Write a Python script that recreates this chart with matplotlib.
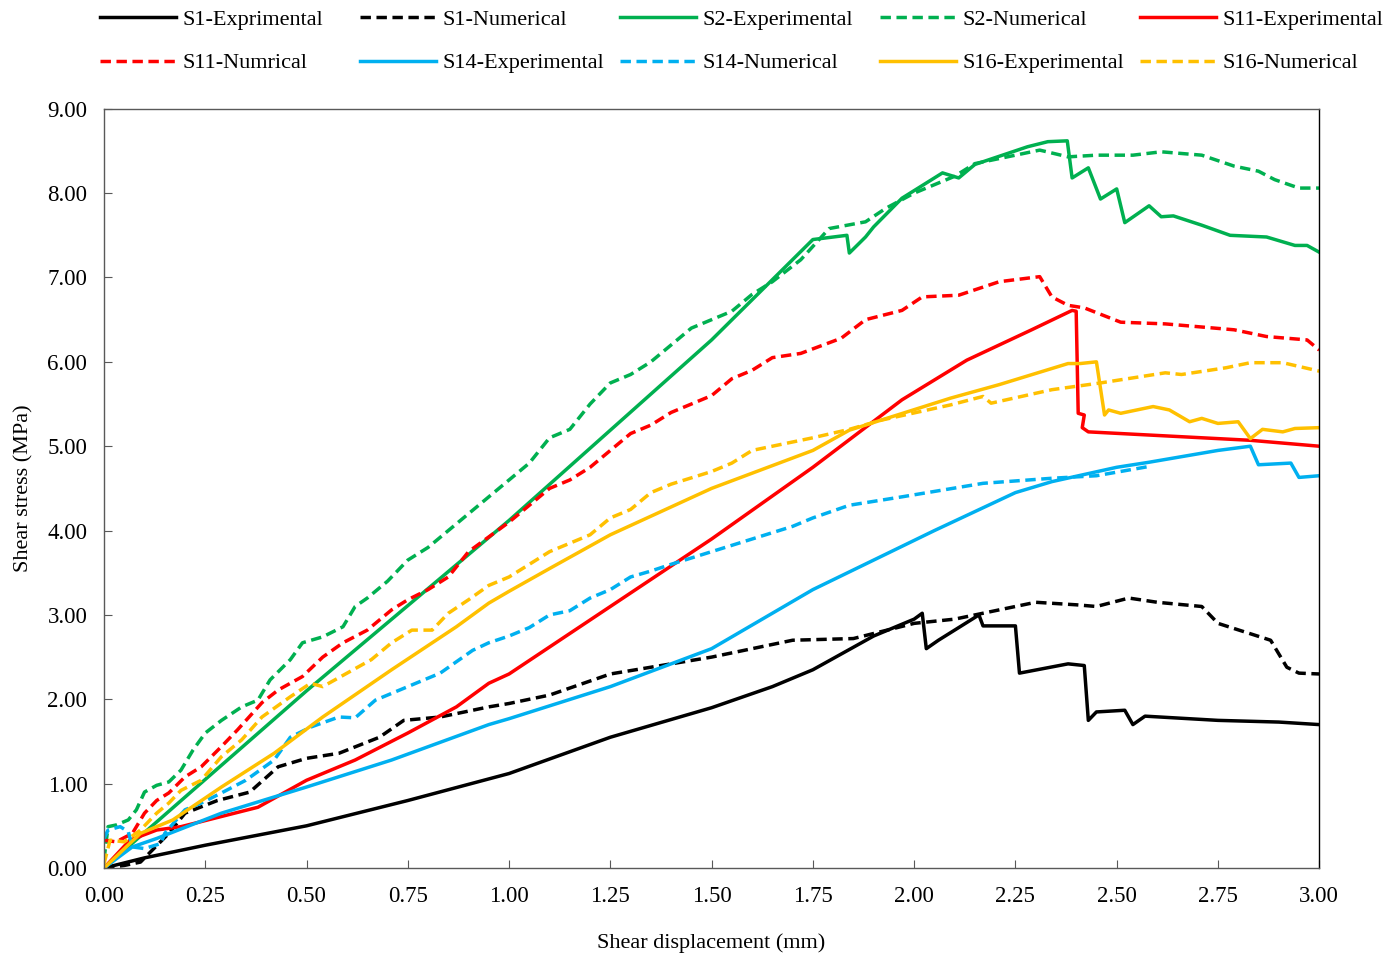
import numpy as np
import matplotlib.pyplot as plt

# S1
s1e_x = [0, 0.1, 0.25, 0.5, 0.75, 1.0, 1.25, 1.5, 1.65, 1.75, 1.9, 2.0, 2.02, 2.03, 2.06, 2.16, 2.17, 2.25, 2.26, 2.38, 2.42, 2.43, 2.45, 2.52, 2.54, 2.57, 2.75, 2.9, 3.0]
s1e_y = [0, 0.12, 0.27, 0.5, 0.8, 1.12, 1.55, 1.9, 2.15, 2.35, 2.75, 2.95, 3.02, 2.6, 2.7, 3.0, 2.87, 2.87, 2.31, 2.42, 2.4, 1.75, 1.85, 1.87, 1.7, 1.8, 1.75, 1.73, 1.7]
s1n_x = [0, 0.05, 0.09, 0.16, 0.2, 0.28, 0.36, 0.43, 0.5, 0.58, 0.68, 0.74, 0.83, 0.95, 1.0, 1.1, 1.25, 1.4, 1.5, 1.6, 1.7, 1.85, 2.0, 2.1, 2.2, 2.3, 2.4, 2.45, 2.53, 2.6, 2.71, 2.75, 2.88, 2.92, 2.95, 3.0]
s1n_y = [0, 0.03, 0.07, 0.41, 0.65, 0.8, 0.9, 1.2, 1.3, 1.36, 1.55, 1.75, 1.79, 1.91, 1.95, 2.05, 2.3, 2.42, 2.5, 2.6, 2.7, 2.72, 2.9, 2.95, 3.05, 3.15, 3.12, 3.1, 3.2, 3.15, 3.1, 2.9, 2.7, 2.38, 2.31, 2.3]
# S2
s2e_x = [0, 0.25, 0.5, 1.0, 1.5, 1.75, 1.834, 1.84, 1.88, 1.9, 1.97, 2.07, 2.11, 2.15, 2.28, 2.33, 2.378, 2.39, 2.43, 2.46, 2.5, 2.52, 2.58, 2.61, 2.64, 2.71, 2.78, 2.87, 2.94, 2.97, 3.0]
s2e_y = [0, 1.05, 2.1, 4.12, 6.26, 7.45, 7.5, 7.29, 7.48, 7.6, 7.94, 8.24, 8.18, 8.34, 8.55, 8.61, 8.62, 8.18, 8.3, 7.93, 8.05, 7.65, 7.85, 7.72, 7.73, 7.62, 7.5, 7.48, 7.38, 7.38, 7.3]
s2n_x = [0, 0.01, 0.03, 0.06, 0.08, 0.1, 0.13, 0.16, 0.19, 0.22, 0.25, 0.29, 0.34, 0.38, 0.41, 0.46, 0.49, 0.54, 0.59, 0.62, 0.65, 0.7, 0.75, 0.8, 0.85, 0.9, 0.95, 1.0, 1.05, 1.1, 1.15, 1.2, 1.25, 1.3, 1.35, 1.4, 1.45, 1.5, 1.55, 1.6, 1.65, 1.72, 1.79, 1.88, 1.93, 2.0, 2.05, 2.1, 2.15, 2.2, 2.25, 2.31, 2.38, 2.45, 2.54, 2.61, 2.71, 2.79, 2.85, 2.89, 2.95, 3.0]
s2n_y = [0.1, 0.49, 0.51, 0.57, 0.69, 0.9, 0.98, 1.02, 1.16, 1.4, 1.6, 1.75, 1.91, 1.99, 2.23, 2.47, 2.67, 2.74, 2.86, 3.1, 3.2, 3.4, 3.65, 3.8, 4.0, 4.2, 4.4, 4.6, 4.8, 5.1, 5.2, 5.5, 5.75, 5.85, 6.0, 6.2, 6.4, 6.5, 6.6, 6.8, 6.95, 7.21, 7.58, 7.66, 7.82, 8.0, 8.1, 8.2, 8.35, 8.4, 8.45, 8.51, 8.43, 8.45, 8.45, 8.49, 8.45, 8.32, 8.26, 8.16, 8.06, 8.06]
# S11
s11e_x = [0, 0.064, 0.13, 0.19, 0.24, 0.38, 0.5, 0.62, 0.75, 0.87, 0.95, 1.0, 1.25, 1.5, 1.75, 1.97, 2.13, 2.29, 2.39, 2.40, 2.405, 2.42, 2.415, 2.43, 2.83, 3.0]
s11e_y = [0, 0.33, 0.45, 0.49, 0.55, 0.72, 1.04, 1.28, 1.6, 1.91, 2.19, 2.3, 3.1, 3.9, 4.75, 5.55, 6.02, 6.38, 6.61, 6.6, 5.39, 5.37, 5.22, 5.17, 5.07, 5.0]
s11n_x = [0, 0.03, 0.07, 0.1, 0.13, 0.16, 0.2, 0.24, 0.29, 0.33, 0.39, 0.43, 0.49, 0.54, 0.59, 0.65, 0.71, 0.75, 0.8, 0.85, 0.9, 1.0, 1.05, 1.1, 1.15, 1.2, 1.25, 1.3, 1.35, 1.4, 1.45, 1.5, 1.55, 1.6, 1.65, 1.72, 1.82, 1.88, 1.97, 2.02, 2.11, 2.21, 2.31, 2.34, 2.38, 2.42, 2.51, 2.62, 2.79, 2.87, 2.97, 3.0]
s11n_y = [0.33, 0.31, 0.41, 0.65, 0.8, 0.89, 1.08, 1.2, 1.44, 1.64, 1.96, 2.11, 2.27, 2.5, 2.67, 2.82, 3.06, 3.18, 3.3, 3.45, 3.75, 4.1, 4.3, 4.5, 4.6, 4.75, 4.95, 5.15, 5.25, 5.4, 5.5, 5.6, 5.8, 5.9, 6.05, 6.1, 6.28, 6.5, 6.61, 6.77, 6.79, 6.95, 7.01, 6.77, 6.67, 6.64, 6.47, 6.45, 6.38, 6.3, 6.26, 6.14]
# S14
s14e_x = [0, 0.07, 0.13, 0.29, 0.5, 0.71, 0.95, 1.0, 1.25, 1.5, 1.75, 2.05, 2.25, 2.34, 2.5, 2.58, 2.75, 2.83, 2.85, 2.93, 2.95, 3.0]
s14e_y = [0, 0.25, 0.35, 0.65, 0.96, 1.28, 1.7, 1.77, 2.15, 2.6, 3.3, 4.0, 4.45, 4.58, 4.75, 4.81, 4.95, 5.0, 4.78, 4.8, 4.63, 4.65]
s14n_x = [0, 0.01, 0.04, 0.06, 0.07, 0.1, 0.14, 0.15, 0.2, 0.24, 0.29, 0.35, 0.42, 0.46, 0.51, 0.58, 0.62, 0.67, 0.75, 0.83, 0.91, 0.95, 1.0, 1.05, 1.1, 1.15, 1.2, 1.25, 1.3, 1.35, 1.4, 1.5, 1.6, 1.7, 1.75, 1.84, 1.97, 2.17, 2.34, 2.45, 2.58]
s14n_y = [0.35, 0.45, 0.49, 0.43, 0.25, 0.23, 0.29, 0.41, 0.69, 0.77, 0.89, 1.04, 1.28, 1.55, 1.67, 1.79, 1.78, 1.99, 2.15, 2.31, 2.58, 2.67, 2.75, 2.85, 3.0, 3.05, 3.2, 3.3, 3.45, 3.52, 3.6, 3.75, 3.9, 4.05, 4.15, 4.3, 4.4, 4.56, 4.62, 4.65, 4.76]
# S16
s16e_x = [0, 0.09, 0.17, 0.29, 0.42, 0.54, 0.71, 0.87, 0.95, 1.0, 1.1, 1.25, 1.5, 1.75, 1.84, 2.09, 2.21, 2.38, 2.41, 2.45, 2.47, 2.48, 2.51, 2.59, 2.63, 2.68, 2.71, 2.75, 2.80, 2.83, 2.86, 2.91, 2.94, 3.0]
s16e_y = [0, 0.41, 0.57, 0.96, 1.36, 1.79, 2.35, 2.86, 3.14, 3.28, 3.55, 3.95, 4.5, 4.95, 5.19, 5.57, 5.73, 5.98, 5.98, 6.0, 5.37, 5.43, 5.39, 5.47, 5.43, 5.29, 5.33, 5.27, 5.29, 5.09, 5.2, 5.17, 5.21, 5.22]
s16n_x = [0, 0.015, 0.05, 0.09, 0.13, 0.16, 0.19, 0.24, 0.29, 0.34, 0.39, 0.46, 0.51, 0.54, 0.6, 0.66, 0.71, 0.76, 0.81, 0.85, 0.9, 0.95, 1.0, 1.05, 1.1, 1.15, 1.2, 1.25, 1.3, 1.35, 1.4, 1.5, 1.55, 1.6, 1.7, 1.75, 1.84, 1.92, 2.09, 2.17, 2.19, 2.34, 2.46, 2.62, 2.66, 2.77, 2.83, 2.91, 3.0]
s16n_y = [0.05, 0.33, 0.31, 0.45, 0.65, 0.77, 0.92, 1.04, 1.32, 1.52, 1.79, 2.03, 2.19, 2.15, 2.31, 2.47, 2.67, 2.82, 2.82, 3.02, 3.18, 3.35, 3.45, 3.6, 3.75, 3.85, 3.95, 4.15, 4.25, 4.45, 4.55, 4.7, 4.8, 4.95, 5.05, 5.1, 5.2, 5.31, 5.49, 5.59, 5.51, 5.67, 5.75, 5.87, 5.85, 5.93, 5.99, 5.99, 5.89]

plt.rcParams['font.family'] = ['Liberation Serif', 'DejaVu Serif']

fig = plt.figure(figsize=(13.96, 9.55), dpi=100)
ax = fig.add_axes([0.0745, 0.0911, 0.8705, 0.795])

lw = 2.5
dash = (3, 1.6)
series = [
    (s1e_x, s1e_y, 'black', '-', 'S1-Exprimental'),
    (s1n_x, s1n_y, 'black', '--', 'S1-Numerical'),
    (s2e_x, s2e_y, '#00B050', '-', 'S2-Experimental'),
    (s2n_x, s2n_y, '#00B050', '--', 'S2-Numerical'),
    (s11e_x, s11e_y, '#FF0000', '-', 'S11-Experimental'),
    (s11n_x, s11n_y, '#FF0000', '--', 'S11-Numrical'),
    (s14e_x, s14e_y, '#00B0F0', '-', 'S14-Experimental'),
    (s14n_x, s14n_y, '#00B0F0', '--', 'S14-Numerical'),
    (s16e_x, s16e_y, '#FFC000', '-', 'S16-Experimental'),
    (s16n_x, s16n_y, '#FFC000', '--', 'S16-Numerical'),
]
handles = []
for x, y, c, ls, lab in series:
    if ls == '--':
        h, = ax.plot(x, y, color=c, lw=lw, dashes=dash, label=lab)
    else:
        h, = ax.plot(x, y, color=c, lw=lw, label=lab)
    handles.append(h)

ax.set_xlim(0, 3.0)
ax.set_ylim(0, 9.0)
ax.set_xticks(np.arange(0, 3.01, 0.25))
ax.set_yticks(np.arange(0, 9.01, 1.0))
ax.xaxis.set_major_formatter(plt.FormatStrFormatter('%.2f'))
ax.yaxis.set_major_formatter(plt.FormatStrFormatter('%.2f'))
ax.tick_params(direction='in', length=6, labelsize=16.5, color='#595959')
ax.tick_params(axis='x', pad=13)
ax.tick_params(axis='y', pad=12)
for s in ax.spines.values():
    s.set_color('#595959')
    s.set_linewidth(1.0)
ax.spines['right'].set_color('black')

ax.set_xlabel('Shear displacement (mm)', fontsize=16, labelpad=19)
ax.set_ylabel('Shear stress (MPa)', fontsize=16, labelpad=10)

# legend: 5 equal-width columns of 2 rows each
W, H = 1396, 955
col_px = [100, 360, 620, 880, 1140]
for k, xp in enumerate(col_px):
    i1, i2 = k, k + 5
    fig.legend([handles[i1], handles[i2]], [series[i1][4], series[i2][4]],
               loc='upper left', bbox_to_anchor=(xp / W, 1 - 9 / H),
               frameon=False, fontsize=16, handlelength=3.4,
               handletextpad=0.3, labelspacing=1.05,
               borderpad=0, borderaxespad=0)

plt.savefig('out.png', dpi=100)
